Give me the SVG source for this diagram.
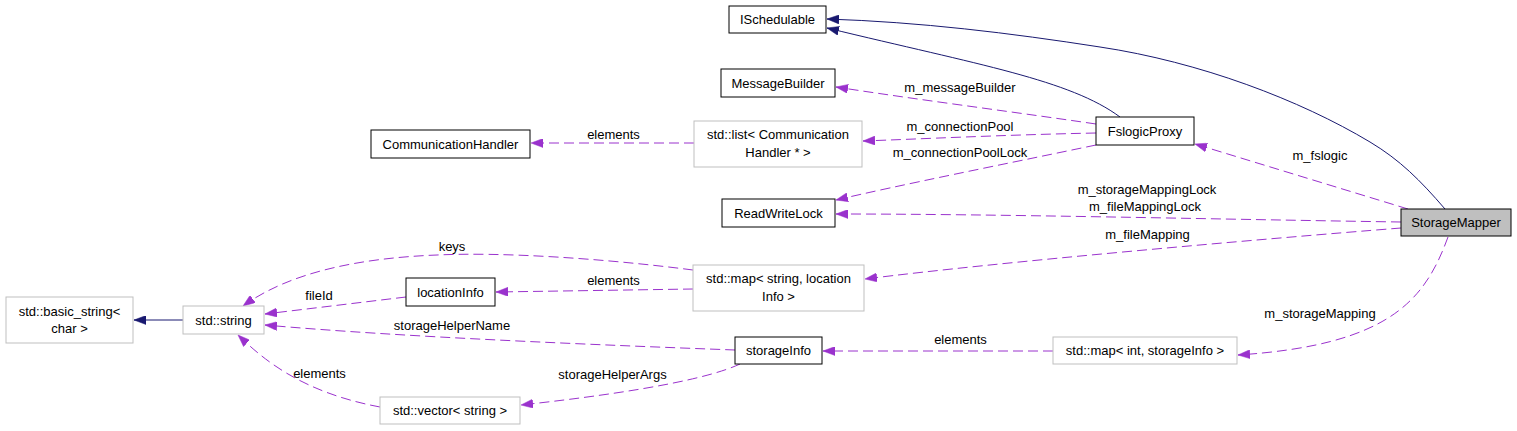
<svg xmlns="http://www.w3.org/2000/svg" width="1517" height="431" viewBox="0 0 1517 431">
<style>
  text { font-family: "Liberation Sans", Arial, sans-serif; font-size: 13px; fill: #000; }
  .n { text-anchor: middle; }
  .lbl { text-anchor: middle; }
  .box { fill: #fff; stroke: #000; stroke-width: 1; }
  .gbox { fill: #fff; stroke: #bfbfbf; stroke-width: 1; }
  .sel { fill: #bfbfbf; stroke: #000; stroke-width: 1; }
  .inh { fill: none; stroke: #191970; stroke-width: 1; marker-end: url(#ah); }
  .use { fill: none; stroke: #9a32cd; stroke-width: 1; stroke-dasharray: 10,5; marker-end: url(#ap); }
</style>
<defs>
  <marker id="ah" markerUnits="userSpaceOnUse" viewBox="0 0 12 9" refX="12" refY="4.5" markerWidth="12" markerHeight="9" orient="auto">
    <path d="M0,0 L12,4.5 L0,9 Z" fill="#191970" stroke="#191970" stroke-width="0.5"/>
  </marker>
  <marker id="ap" markerUnits="userSpaceOnUse" viewBox="0 0 12 9" refX="12" refY="4.5" markerWidth="12" markerHeight="9" orient="auto">
    <path d="M0,0 L12,4.5 L0,9 Z" fill="#9a32cd" stroke="#9a32cd" stroke-width="0.5"/>
  </marker>
</defs>
<rect width="1517" height="431" fill="#fff"/>

<g id="connectors">
  <path class="inh" d="M1120,117 C1070,80 980,65 827,28"/>
  <path class="inh" d="M1445,209 C1420,180 1400,160 1370,142 C1300,100 1200,62 1100,47 C1010,33 920,22 827,19"/>
  <path class="inh" d="M183,320 L134,320"/>

  <path class="use" d="M1096,124 C1000,110 920,100 836,87"/>
  <text class="lbl" x="960" y="92">m_messageBuilder</text>

  <path class="use" d="M1096,133 C1000,135 920,139 863,141"/>
  <text class="lbl" x="960" y="131">m_connectionPool</text>

  <path class="use" d="M1096,145 C1000,165 900,185 836,200"/>
  <text class="lbl" x="960" y="157">m_connectionPoolLock</text>

  <path class="use" d="M694,143 L531,143"/>
  <text class="lbl" x="613.5" y="139">elements</text>

  <path class="use" d="M1408,209 L1195,144"/>
  <text class="lbl" x="1320" y="160">m_fslogic</text>

  <path class="use" d="M1401,222 C1200,219 1000,214 836,214"/>
  <text class="lbl" x="1147" y="194">m_storageMappingLock</text>
  <text class="lbl" x="1145" y="211">m_fileMappingLock</text>

  <path class="use" d="M1401,228 C1250,240 1000,262 865,279"/>
  <text class="lbl" x="1147.5" y="239">m_fileMapping</text>

  <path class="use" d="M1448,237 C1425,300 1390,345 1238,355"/>
  <text class="lbl" x="1320" y="318">m_storageMapping</text>

  <path class="use" d="M693,270 C600,258 500,252 437,255 C360,258 290,272 243,306"/>
  <text class="lbl" x="452" y="251">keys</text>

  <path class="use" d="M693,289 L496,292"/>
  <text class="lbl" x="613.5" y="285">elements</text>

  <path class="use" d="M406,297 L265,314"/>
  <text class="lbl" x="319" y="300">fileId</text>

  <path class="use" d="M735,350 C600,345 400,337 265,325"/>
  <text class="lbl" x="452" y="330">storageHelperName</text>

  <path class="use" d="M740,364 C710,378 640,392 521,405"/>
  <text class="lbl" x="612.5" y="379">storageHelperArgs</text>

  <path class="use" d="M380,407 C300,392 262,358 238,335"/>
  <text class="lbl" x="319.5" y="378">elements</text>

  <path class="use" d="M1053,351 L823,351"/>
  <text class="lbl" x="960.5" y="344">elements</text>
</g>

<g id="ISchedulable">
  <rect class="box" x="729" y="6" width="97" height="27"/>
  <text class="n" x="777.5" y="24">ISchedulable</text>
</g>
<g id="MessageBuilder">
  <rect class="box" x="721" y="69" width="114" height="28"/>
  <text class="n" x="778" y="87.5">MessageBuilder</text>
</g>
<g id="CommunicationHandler">
  <rect class="box" x="371" y="130" width="159" height="28"/>
  <text class="n" x="450.5" y="148.5">CommunicationHandler</text>
</g>
<g id="StdListCommunicationHandler">
  <rect class="gbox" x="694" y="121" width="168" height="46"/>
  <text class="n" x="778" y="139">std::list&lt; Communication</text>
  <text class="n" x="778" y="156.5">Handler * &gt;</text>
</g>
<g id="FslogicProxy">
  <rect class="box" x="1096" y="117" width="98" height="28"/>
  <text class="n" x="1145" y="135.5">FslogicProxy</text>
</g>
<g id="ReadWriteLock">
  <rect class="box" x="722" y="199" width="113" height="28"/>
  <text class="n" x="778.5" y="217.5">ReadWriteLock</text>
</g>
<g id="StorageMapper">
  <rect class="sel" x="1401" y="209" width="110" height="27"/>
  <text class="n" x="1456" y="227">StorageMapper</text>
</g>
<g id="StdMapStringLocationInfo">
  <rect class="gbox" x="693" y="265" width="171" height="46"/>
  <text class="n" x="778.5" y="283">std::map&lt; string, location</text>
  <text class="n" x="778.5" y="300.5">Info &gt;</text>
</g>
<g id="locationInfo">
  <rect class="box" x="406" y="278" width="89" height="28"/>
  <text class="n" x="450.5" y="296.5">locationInfo</text>
</g>
<g id="StdBasicString">
  <rect class="gbox" x="6" y="297" width="127" height="46"/>
  <text class="n" x="69.5" y="315.5">std::basic_string&lt;</text>
  <text class="n" x="69.5" y="333">char &gt;</text>
</g>
<g id="StdString">
  <rect class="gbox" x="183" y="306" width="81" height="28"/>
  <text class="n" x="223.5" y="324.5">std::string</text>
</g>
<g id="storageInfo">
  <rect class="box" x="735" y="337" width="87" height="27"/>
  <text class="n" x="778.5" y="355">storageInfo</text>
</g>
<g id="StdMapIntStorageInfo">
  <rect class="gbox" x="1053" y="337" width="184" height="27"/>
  <text class="n" x="1145" y="355">std::map&lt; int, storageInfo &gt;</text>
</g>
<g id="StdVectorString">
  <rect class="gbox" x="380" y="397" width="140" height="27"/>
  <text class="n" x="450" y="415">std::vector&lt; string &gt;</text>
</g>
</svg>
